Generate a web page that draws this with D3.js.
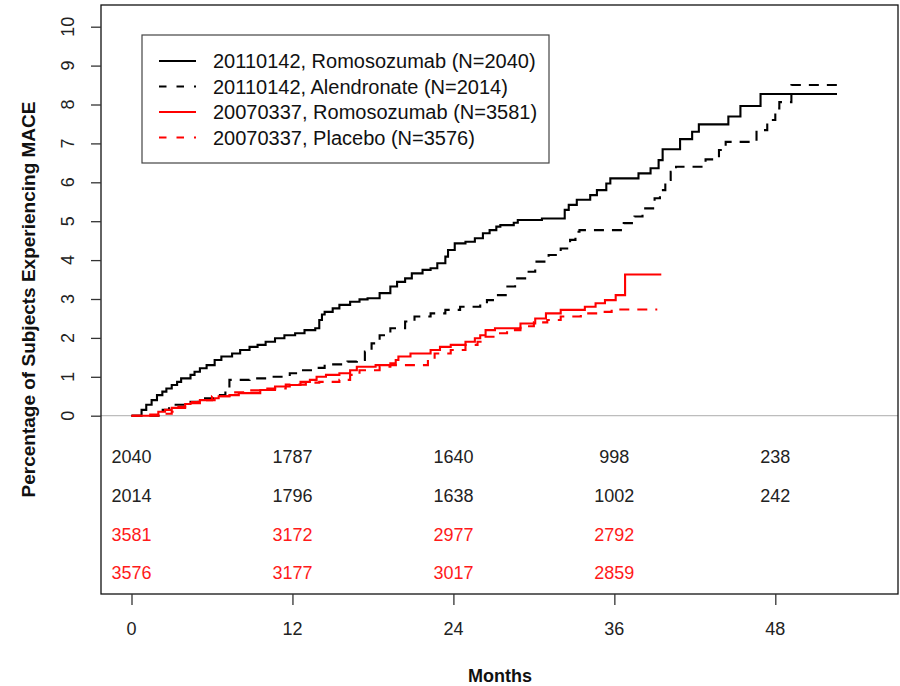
<!DOCTYPE html>
<html><head><meta charset="utf-8">
<script src="https://cdn.jsdelivr.net/npm/d3@7"></script>
<style>body{margin:0;background:#fff}svg{display:block}text{font-family:"Liberation Sans",Arial,sans-serif}</style>
</head><body><svg id="c" width="900" height="686"></svg>
<script>
// ---- data ----
const seriesNames = ["20110142, Romosozumab (N=2040)","20110142, Alendronate (N=2014)","20070337, Romosozumab (N=3581)","20070337, Placebo (N=3576)"];
const seriesColors = ["#000000","#000000","#ff0000","#ff0000"];
const seriesDashed = [false,true,false,true];
// [month, cumulative % at and after that month]
const rom1 = [[0,0],[0.75,0.15],[1.1,0.28],[1.5,0.40],[1.9,0.53],[2.3,0.62],[2.6,0.70],[3.0,0.79],[3.4,0.87],[3.7,0.96],[4.4,1.05],[4.7,1.13],[5.1,1.22],[5.6,1.30],[6.2,1.43],[6.7,1.52],[7.5,1.60],[8.1,1.69],[8.8,1.77],[9.4,1.82],[10,1.90],[10.7,1.99],[11.4,2.07],[12.2,2.12],[12.9,2.20],[13.7,2.25],[14.0,2.46],[14.2,2.60],[14.4,2.67],[15,2.76],[15.5,2.85],[16.3,2.93],[17,2.99],[17.6,3.02],[18.5,3.15],[19.3,3.32],[19.8,3.44],[20.4,3.53],[20.9,3.66],[21.7,3.75],[22.3,3.79],[22.8,3.92],[23.4,4.09],[23.6,4.26],[24.1,4.43],[24.9,4.47],[25.6,4.56],[26.2,4.69],[26.7,4.77],[27.2,4.86],[27.5,4.90],[28.5,4.96],[28.8,5.03],[30.6,5.07],[32.3,5.29],[32.6,5.42],[33.2,5.55],[34.2,5.67],[34.7,5.80],[35.4,5.97],[35.7,6.10],[37.8,6.23],[38.7,6.36],[39.3,6.57],[39.6,6.85],[40.9,7.11],[41.8,7.30],[42.3,7.49],[44.5,7.69],[45.4,7.96],[46.9,8.27],[52.6,8.27]];
const alen = [[0,0],[2.1,0.15],[2.8,0.28],[4,0.36],[5.1,0.45],[6.2,0.53],[7.0,0.62],[7.3,0.92],[8.8,0.96],[10.3,1.0],[11.8,1.09],[12.6,1.17],[13.7,1.23],[14.4,1.32],[16.1,1.39],[16.8,1.43],[17.4,1.65],[17.9,1.86],[18.5,2.07],[19.3,2.25],[20.4,2.42],[21.1,2.55],[22.3,2.63],[23.4,2.72],[24.5,2.80],[26,2.87],[26.5,2.97],[27.1,3.10],[27.9,3.32],[28.6,3.53],[29.5,3.70],[30.1,3.96],[31.1,4.13],[32,4.30],[32.7,4.52],[33.1,4.73],[33.4,4.77],[36.7,4.95],[37.5,5.12],[38.1,5.33],[39,5.59],[39.4,5.80],[39.8,6.06],[40.2,6.27],[40.6,6.40],[42.8,6.59],[43.8,6.83],[44.3,7.04],[46.6,7.34],[47.4,7.60],[48,7.90],[48.3,8.06],[49.2,8.50],[52.6,8.50]];
const rom2 = [[0,0],[1.4,0.03],[2,0.1],[2.5,0.15],[3,0.2],[3.5,0.23],[4,0.3],[4.4,0.32],[5.1,0.40],[6.2,0.45],[6.5,0.5],[7.3,0.53],[8,0.58],[9.6,0.66],[10.7,0.75],[11.8,0.79],[12.6,0.87],[13.3,0.92],[13.8,1.0],[14.5,1.05],[15.5,1.09],[16.3,1.17],[16.8,1.26],[18.2,1.30],[19.3,1.35],[19.7,1.43],[19.9,1.52],[20.8,1.60],[22.3,1.69],[23,1.77],[23.8,1.82],[24.9,1.90],[25.6,1.99],[26,2.07],[26.4,2.20],[27.1,2.25],[29,2.37],[30.1,2.50],[30.9,2.63],[32,2.72],[33.8,2.80],[34.6,2.89],[35.3,2.97],[36.1,3.10],[36.8,3.63],[39.5,3.63]];
const plac = [[0,0],[2.5,0.05],[3,0.1],[3.5,0.2],[4,0.25],[4.5,0.35],[5,0.4],[6,0.5],[7.3,0.6],[8.5,0.65],[10,0.7],[11.5,0.8],[13,0.85],[14,0.87],[15.5,0.92],[16.3,1.05],[17,1.17],[18.5,1.26],[19.3,1.30],[22.1,1.43],[22.6,1.60],[23.8,1.69],[24.9,1.82],[25.8,1.90],[26.4,2.03],[27.1,2.12],[28,2.2],[29,2.3],[30,2.40],[31,2.46],[32,2.55],[33.5,2.63],[35,2.67],[35.8,2.73],[39.2,2.73]];
const seriesData = [rom1, alen, rom2, plac];
const xTicks = [0,12,24,36,48];
const yTicks = [0,1,2,3,4,5,6,7,8,9,10];
// numbers at risk, per series, at xTicks (null = none)
const atRisk = [[2040,1787,1640,998,238],[2014,1796,1638,1002,242],[3581,3172,2977,2792,null],[3576,3177,3017,2859,null]];
const xTitle = "Months";
const yTitle = "Percentage of Subjects Experiencing MACE";

// ---- layout ----
const svg = d3.select("#c");
const box = {l:101, r:898, t:5, b:594};
const x = d3.scaleLinear().domain([0,48]).range([131.5,775.3]);
const y = d3.scaleLinear().domain([0,10]).range([415.7,26.7]);
const riskY = [457,496,535,573];

// zero reference line
svg.append("line").attr("x1",box.l).attr("x2",box.r).attr("y1",y(0)).attr("y2",y(0))
  .attr("stroke","#bdbdbd").attr("stroke-width",1.3);

// curves
const line = d3.line().x(d=>x(d[0])).y(d=>y(d[1])).curve(d3.curveStepAfter);
seriesData.forEach((s,i)=>{
  svg.append("path").attr("d",line(s)).attr("fill","none")
    .attr("stroke",seriesColors[i]).attr("stroke-width",2.1)
    .attr("stroke-dasharray",seriesDashed[i]?"10,8":null);
});

// box
svg.append("rect").attr("x",box.l).attr("y",box.t).attr("width",box.r-box.l).attr("height",box.b-box.t)
  .attr("fill","none").attr("stroke","#111").attr("stroke-width",1.3);

// y axis
const yAx = svg.append("g").attr("transform",`translate(${box.l},0)`)
  .call(d3.axisLeft(y).tickValues(yTicks).tickSize(10).tickFormat(""));
yAx.select(".domain").remove();
yAx.selectAll("line").attr("stroke","#333").attr("stroke-width",1.3);
svg.selectAll(".ytl").data(yTicks).join("text").attr("class","ytl")
  .attr("transform",d=>`translate(68,${y(d)}) rotate(-90)`)
  .attr("text-anchor","middle").attr("dominant-baseline","central")
  .attr("font-size",18).attr("fill","#222").text(d=>d);

// x axis
const xAx = svg.append("g").attr("transform",`translate(0,${box.b})`)
  .call(d3.axisBottom(x).tickValues(xTicks).tickSize(11).tickFormat(""));
xAx.select(".domain").remove();
xAx.selectAll("line").attr("stroke","#333").attr("stroke-width",1.3);
svg.selectAll(".xtl").data(xTicks).join("text").attr("class","xtl")
  .attr("x",d=>x(d)).attr("y",629).attr("text-anchor","middle").attr("dominant-baseline","central")
  .attr("font-size",18).attr("fill","#222").text(d=>d);

// at risk table
atRisk.forEach((row,i)=>{
  row.forEach((v,j)=>{
    if(v==null) return;
    svg.append("text").attr("x",x(xTicks[j])).attr("y",riskY[i]).attr("text-anchor","middle")
      .attr("dominant-baseline","central").attr("font-size",18)
      .attr("fill",seriesColors[i]==="#000000"?"#222":"#ff1a1a").text(v);
  });
});

// titles
svg.append("text").attr("x",500).attr("y",676).attr("text-anchor","middle").attr("dominant-baseline","central")
  .attr("font-size",18).attr("font-weight","bold").attr("fill","#111").text(xTitle);
svg.append("text").attr("transform",`translate(28,${(box.t+box.b)/2}) rotate(-90)`)
  .attr("text-anchor","middle").attr("dominant-baseline","central")
  .attr("font-size",19).attr("font-weight","bold").attr("fill","#111").text(yTitle);

// legend
const lg = svg.append("g");
lg.append("rect").attr("x",142).attr("y",35).attr("width",407).attr("height",128)
  .attr("fill","#fff").attr("stroke","#444").attr("stroke-width",1.2);
const legY = [61,86.5,112,137.5];
seriesNames.forEach((n,i)=>{
  lg.append("line").attr("x1",159).attr("x2",196).attr("y1",legY[i]).attr("y2",legY[i])
    .attr("stroke",seriesColors[i]).attr("stroke-width",2.1)
    .attr("stroke-dasharray",seriesDashed[i]?"7.5,10":null);
  lg.append("text").attr("x",213).attr("y",legY[i]).attr("dominant-baseline","central")
    .attr("font-size",20).attr("fill","#111").text(n);
});
</script></body></html>
